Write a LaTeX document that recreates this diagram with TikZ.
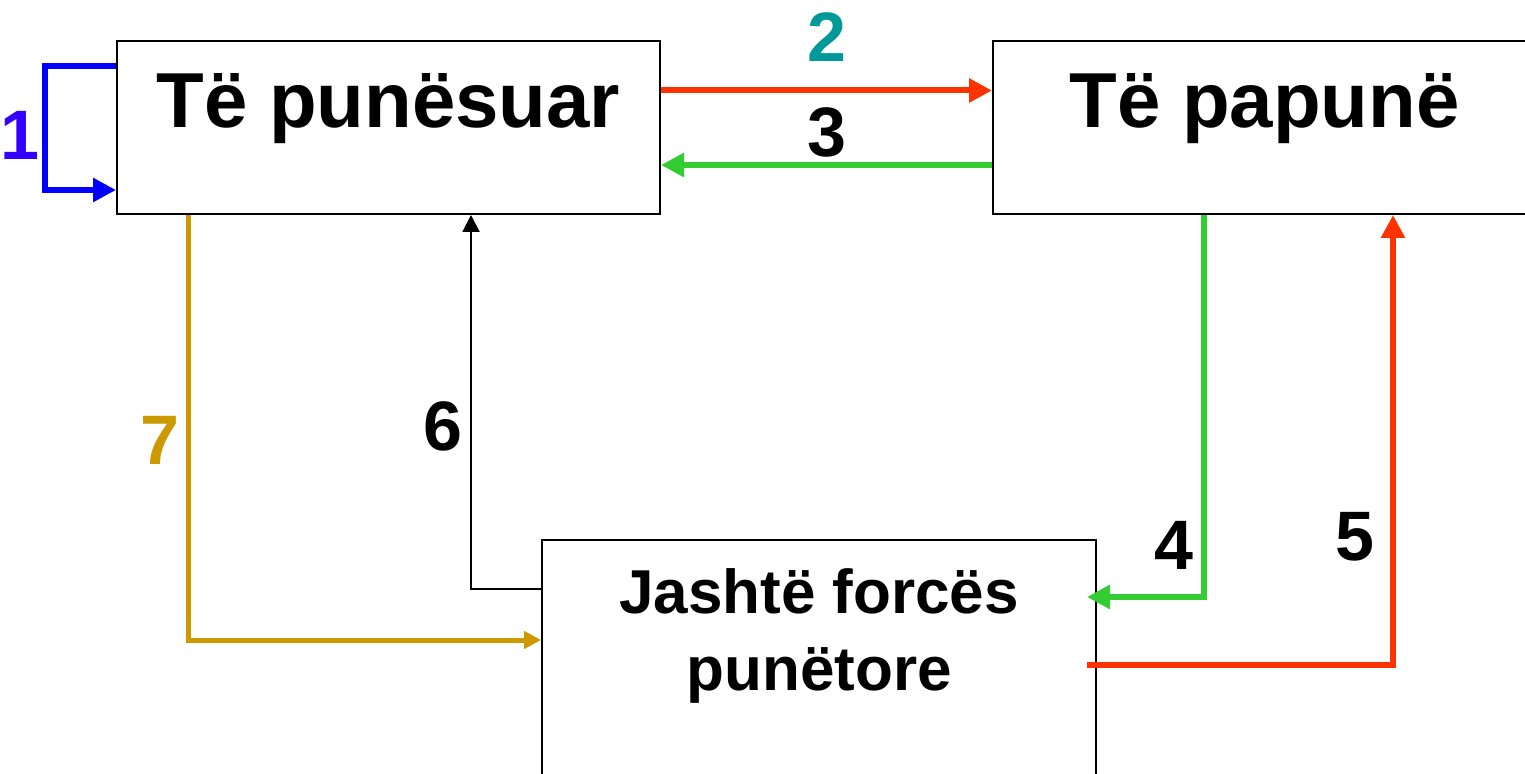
\documentclass[tikz,border=0pt]{standalone}
\usepackage{fontspec}
\setmainfont{Liberation Sans}
\usetikzlibrary{arrows.meta,positioning}
\definecolor{flowblue}{HTML}{0000FF}
\definecolor{numblue}{HTML}{3300FF}
\definecolor{flowred}{HTML}{FF3300}
\definecolor{flowgreen}{HTML}{33CC33}
\definecolor{numteal}{HTML}{009999}
\definecolor{flowgold}{HTML}{CC9900}
\tikzset{
    flow/.style={line width=3pt, -{Triangle[length=11.5pt,width=11.5pt]}},
    thinflow/.style={line width=1pt, -{Triangle[length=8.5pt,width=8.5pt]}},
    goldflow/.style={line width=2.5pt, draw=flowgold, -{Triangle[length=8.5pt,width=8.5pt]}},
    state/.style={draw, line width=1pt, inner sep=0pt, minimum width=271.5pt,
                  minimum height=86.5pt, text height=43.5pt, text depth=43pt,
                  font=\fontsize{39}{47}\selectfont\bfseries},
    num/.style={inner sep=0pt, font=\fontsize{35}{42}\selectfont\bfseries},
    }

\begin{document}
\begin{tikzpicture}[x=0.5pt,y=-0.5pt]
    \useasboundingbox (0,0) rectangle (1525,774);
    \node[state] (emp) at (388.5,127.5) {Të punësuar};
    \node[state] (unemp) [right=165.5pt of emp] {Të papunë};
    \node[state, minimum width=277pt, minimum height=130pt, text height=75pt,
          text depth=55pt, align=center,
          font=\fontsize{31}{38.5}\selectfont\bfseries] (out) at (819,670) {Jashtë forcës\\punëtore};

    \draw[flow, flowblue] (emp.west |- 0,66) -- ++(-71,0) |- (emp.west |- 0,190);
    \draw[flow, flowred] (emp.east |- 0,90.5) -- (unemp.west |- 0,90.5);
    \draw[flow, flowgreen] (unemp.west |- 0,165) -- (emp.east |- 0,165);
    \draw[flow, flowgreen, shorten >=-5pt] (unemp.south -| 1203.5,0) |- (out.east |- 0,597);
    \draw[flow, flowred, shorten <=-5pt] (out.east |- 0,665) -| (unemp.south -| 1393,0);
    \draw[thinflow] (out.west |- 0,589) -| (emp.south -| 471,0);
    \draw[goldflow] (emp.south -| 188,0) |- (out.west |- 0,640);

    \node[num, text=numblue] (n1) at (20,135) {1};
    \node[num, text=numteal] (n2) at (827,37) {2};
    \node[num] (n3) at (827,132) {3};
    \node[num] (n4) at (1174,545) {4};
    \node[num] (n5) at (1355,537) {5};
    \node[num] (n6) at (443,426) {6};
    \node[num, text=flowgold] (n7) at (160,440) {7};
\end{tikzpicture}
\end{document}
